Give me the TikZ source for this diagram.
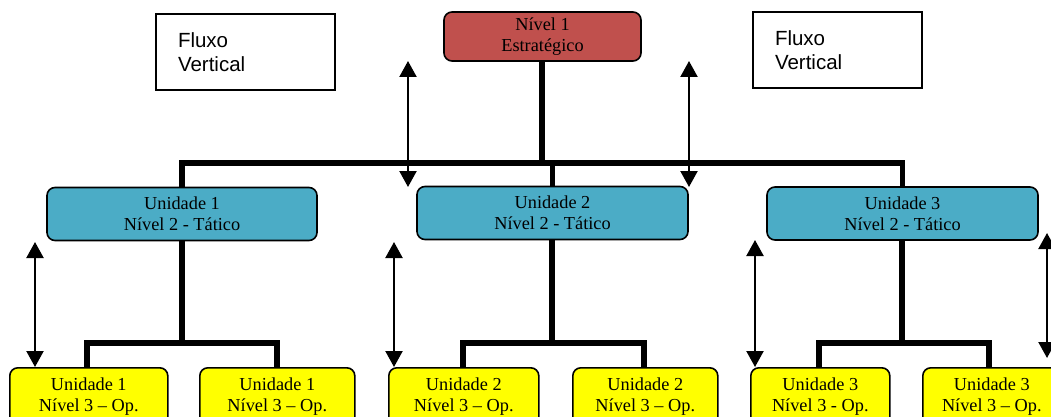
\documentclass[tikz,border=0pt]{standalone}
\usepackage{fontspec}
\setmainfont{Liberation Serif}
\newfontfamily\labelsans{Liberation Sans}
\usetikzlibrary{arrows.meta}

\definecolor{stratred}{HTML}{C0504D}
\definecolor{tactblue}{HTML}{4BACC6}
\definecolor{opyellow}{HTML}{FFFF00}

\tikzset{
  unitbox/.style={draw=black, line width=1.6pt, rounded corners=8pt, align=center,
    inner sep=0pt, font=\fontsize{18.3}{21}\selectfont},
  stratbox/.style={unitbox, fill=stratred, minimum width=197pt, minimum height=49pt},
  tactbox/.style={unitbox, fill=tactblue, minimum width=271pt, minimum height=53pt},
  opbox/.style={unitbox, fill=opyellow, minimum height=58pt, anchor=north west},
  notebox/.style={draw=black, line width=1.6pt, minimum width=179pt, minimum height=76pt,
    text width=135pt, inner xsep=22pt, align=left, font=\labelsans\fontsize{20.5}{24}\selectfont},
  tree/.style={line width=5.5pt},
  flow/.style={line width=2.2pt, {Triangle[width=17pt,length=16pt]}-{Triangle[width=17pt,length=16pt]}}
}

\begin{document}
\begin{tikzpicture}[x=1pt, y=-1pt]
\clip (0,0) rectangle (1051,417);

% captions
\node[notebox] (fl) at (245.5,52) {Fluxo\\Vertical};
\node[notebox, minimum width=169pt, text width=125pt] (fr) at (837.5,50) {Fluxo\\Vertical};

% strategic level
\node[stratbox] (n1) at (542.5,36.5) {Nível 1\\Estratégico};

% tactical level
\node[tactbox, minimum width=270pt] (u1) at (182,214) {Unidade 1\\Nível 2 - Tático};
\node[tactbox] (u2) at (552.5,213) {Unidade 2\\Nível 2 - Tático};
\node[tactbox] (u3) at (902.5,213.5) {Unidade 3\\Nível 2 - Tático};

% operational level
\node[opbox, minimum width=158pt] (o1a) at (9,367)   {Unidade 1\\Nível 3 – Op.};
\node[opbox, minimum width=155pt] (o1b) at (199,367) {Unidade 1\\Nível 3 – Op.};
\node[opbox, minimum width=150pt] (o2a) at (388,367) {Unidade 2\\Nível 3 – Op.};
\node[opbox, minimum width=145pt] (o2b) at (572,367) {Unidade 2\\Nível 3 – Op.};
\node[opbox, minimum width=139pt] (o3a) at (750,367) {Unidade 3\\Nível 3 - Op.};
\node[opbox, minimum width=138pt] (o3b) at (922,367) {Unidade 3\\Nível 3 – Op.};

% tree junctions
\coordinate (top) at (542,163);
\coordinate (b1) at (182,343);
\coordinate (b2) at (552,343);
\coordinate (b3) at (902,343);

% level 1 -> level 2
\draw[tree] (n1.south -| top) -- (top);
\draw[tree] (u1.north) |- (top) -| (u3.north);
\draw[tree] (u2.north) -- (u2.north |- top);

% level 2 -> level 3
\draw[tree] (u1.south) -- (b1);
\draw[tree] (87,367) |- (b1) -| (277,367);
\draw[tree] (u2.south -| b2) -- (b2);
\draw[tree] (463,367) |- (b2) -| (644,367);
\draw[tree] (u3.south -| b3) -- (b3);
\draw[tree] (819,367) |- (b3) -| (989,367);

% vertical flow arrows
\coordinate (a1t) at (408,61);  \coordinate (a1b) at (408,187);
\coordinate (a2t) at (689,61);  \coordinate (a2b) at (689,187);
\coordinate (a3t) at (35,242);  \coordinate (a3b) at (35,367);
\coordinate (a4t) at (394,242); \coordinate (a4b) at (394,367);
\coordinate (a5t) at (755,240); \coordinate (a5b) at (755,367);
\coordinate (a6t) at (1047,233); \coordinate (a6b) at (1047,358);
\draw[flow] (a1t) -- (a1b);
\draw[flow] (a2t) -- (a2b);
\draw[flow] (a3t) -- (a3b);
\draw[flow] (a4t) -- (a4b);
\draw[flow] (a5t) -- (a5b);
\draw[flow] (a6t) -- (a6b);
\end{tikzpicture}
\end{document}
